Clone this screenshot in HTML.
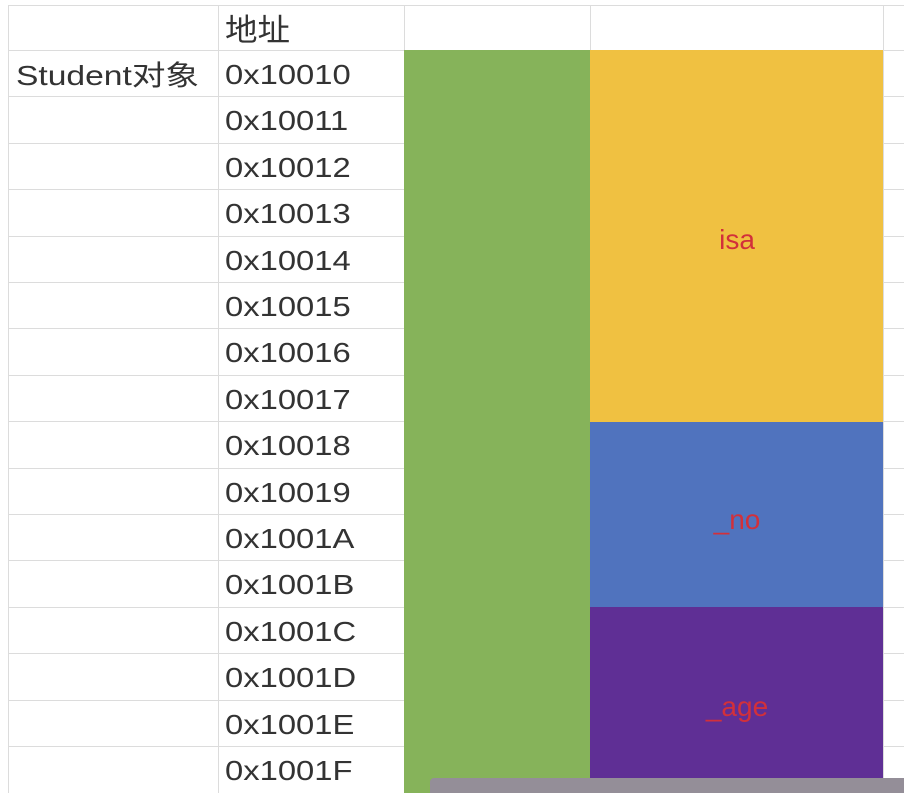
<!DOCTYPE html>
<html><head><meta charset="utf-8"><style>
body{margin:0;width:904px;height:802px;background:#fff;overflow:hidden;position:relative;font-family:"Liberation Sans","Noto Sans CJK SC",sans-serif;}
.h{position:absolute;height:1px;background:#dcdcdc;left:8px;width:896px}
.v{position:absolute;width:1px;background:#dcdcdc;top:5px;height:788px}
.t{position:absolute;font-size:28px;color:#333;line-height:46px;height:46px;transform-origin:left center;transform:scaleX(1.17);white-space:nowrap}
.blk{position:absolute}
.lab{position:absolute;color:#d2303a;font-size:28px;transform:translate(-50%,-50%)}
</style></head><body>
<div id="grid"></div>
<div class="t" style="left:225px;top:8px;font-size:31px;transform:scaleX(1.05)">地址</div>
<div class="t" style="left:16px;top:53px;transform:scaleX(1.2)">Student对象</div>
<div class="blk" style="left:404px;top:50px;width:186px;height:743px;background:#86b35a"></div>
<div class="blk" style="left:590px;top:50px;width:293px;height:372px;background:#f0c141"></div>
<div class="blk" style="left:590px;top:422px;width:293px;height:185px;background:#5073be"></div>
<div class="blk" style="left:590px;top:607px;width:293px;height:186px;background:#5f2f95"></div>
<div class="lab" style="left:737px;top:240px">isa</div>
<div class="lab" style="left:737px;top:520px">_no</div>
<div class="lab" style="left:737px;top:707px">_age</div>
<div class="blk" style="left:430px;top:778px;width:474px;height:15px;background:#948e98;border-radius:4px 0 0 0"></div>
<script>
const addrs=["0x10010","0x10011","0x10012","0x10013","0x10014","0x10015","0x10016","0x10017","0x10018","0x10019","0x1001A","0x1001B","0x1001C","0x1001D","0x1001E","0x1001F"];
const g=document.getElementById('grid');
const top0=50,rh=46.4;
function line(cls,style,name){const d=document.createElement('div');d.className=cls;d.setAttribute('style',style);


g.appendChild(d);}
line('h','top:5px','grid-line');
for(let i=0;i<addrs.length;i++){line('h','top:'+Math.round(top0+i*rh)+'px','grid-line');}
[8,218,404,590,883].forEach(x=>line('v','left:'+x+'px','grid-line'));
addrs.forEach((a,i)=>{const d=document.createElement('div');d.className='t';
d.style.left='225px';d.style.top=Math.round(top0+i*rh+2)+'px';d.textContent=a;


document.body.appendChild(d);});
</script>
</body></html>
